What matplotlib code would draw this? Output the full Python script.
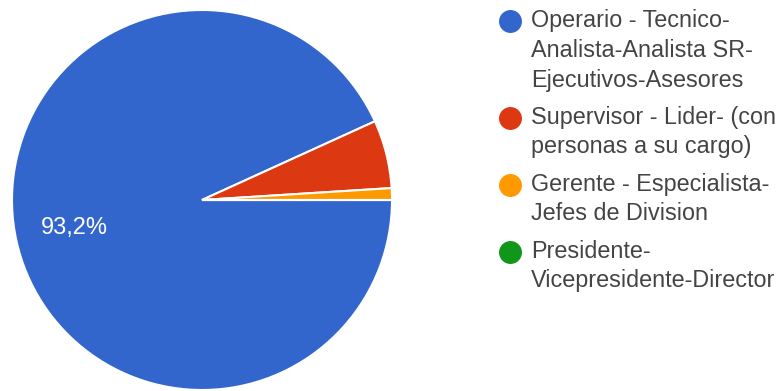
import matplotlib.pyplot as plt
from matplotlib.lines import Line2D

plt.rcParams['font.family'] = ['Liberation Sans', 'DejaVu Sans']

# share of respondents per job level
categories = [
    "Operario - Tecnico-\nAnalista-Analista SR-\nEjecutivos-Asesores",
    "Supervisor - Lider- (con\npersonas a su cargo)",
    "Gerente - Especialista-\nJefes de Division",
    "Presidente-\nVicepresidente-Director",
]
shares = [93.2, 5.8, 1.0, 0.0]
colors = ["#3366CC", "#DC3912", "#FF9900", "#109618"]

fig = plt.figure(figsize=(7.77, 3.91), dpi=100)
ax = fig.add_axes([12 / 777, 1 / 391, 380 / 777, 380 / 391])

wedges, _ = ax.pie(shares, colors=colors, startangle=0, counterclock=False,
                   radius=1.0, wedgeprops=dict(edgecolor="white", linewidth=1.5))
ax.set_xlim(-1.0, 1.0)
ax.set_ylim(-1.0, 1.0)
ax.set_aspect("equal")

# only the big slice gets a percentage label
ax.text(-0.674, -0.147, f"{shares[0]:.1f}%".replace(".", ","), color="white",
        fontsize=17, ha="center", va="center")

# legend drawn by hand so the dot sits next to the first line
x_dot, x_txt = 510 / 777, 531 / 777
y = 21
line_h = 29.5
gap = 8
for label, color in zip(categories, colors):
    parts = label.split("\n")
    fig.add_artist(Line2D([x_dot], [1 - y / 391], marker="o", markersize=15.5,
                          color=color, transform=fig.transFigure))
    for k, part in enumerate(parts):
        fig.text(x_txt, 1 - (y + k * line_h) / 391, part, fontsize=16.8,
                 color="#444444", va="center", ha="left")
    y += len(parts) * line_h + gap

fig.savefig("out.png", dpi=100)
